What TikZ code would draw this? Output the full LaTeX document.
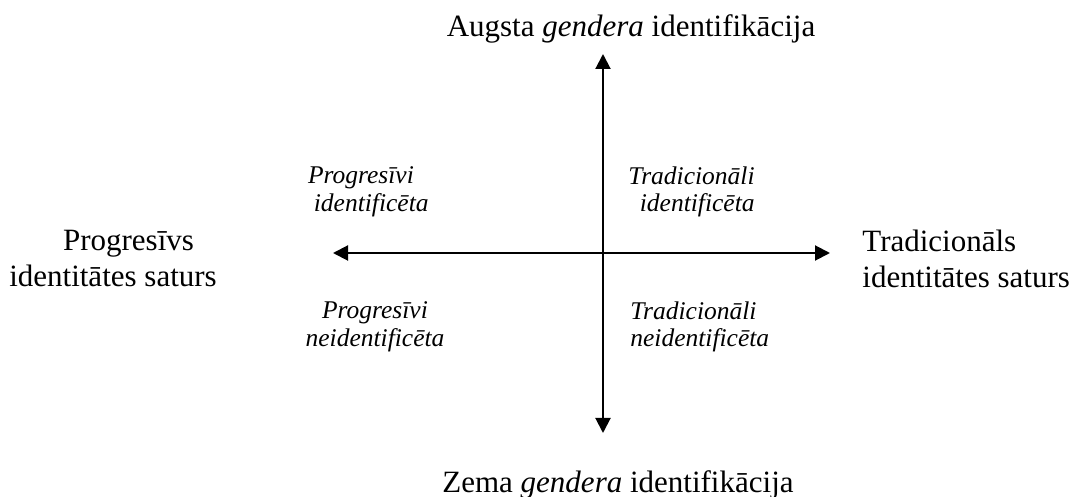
\documentclass[tikz,border=0pt]{standalone}
\usepackage{fontspec}
\setmainfont{Liberation Serif}
\usetikzlibrary{arrows.meta}

\begin{document}
\begin{tikzpicture}[x=0.5pt, y=-0.5pt,
    axis/.style={line width=1pt, {Triangle[length=7.5pt,width=7.5pt]}-{Triangle[length=7.5pt,width=7.5pt]}},
    mainlabel/.style={font=\fontsize{15.5}{18}\selectfont, inner sep=0pt},
    quadlabel/.style={font=\fontsize{12.75}{13.75}\selectfont\itshape, inner sep=0pt}]
    \useasboundingbox (0,0) rectangle (1073,497);

    % Axes
    \coordinate (left) at (333,253);
    \coordinate (right) at (830,253);
    \coordinate (top) at (603,54);
    \coordinate (bottom) at (603,433);
    \draw[axis] (left) -- (right);
    \draw[axis] (bottom) -- (top);

    % Axis labels
    \node[mainlabel, anchor=base] (high) at (631,37) {Augsta \textit{gendera} identifikācija};
    \node[mainlabel, anchor=base] (low) at (618,493) {Zema \textit{gendera} identifikācija};
    \node[mainlabel, align=center] (progr) at (113,259) {\hspace*{1em}Progresīvs\\identitātes saturs};
    \node[mainlabel, align=left, anchor=west] (trad) at (862,259) {Tradicionāls\\identitātes saturs};

    % Quadrant labels
    \node[quadlabel, align=center] (progrid) at (361,192) {Progresīvi\\\hspace*{0.8em}identificēta};
    \node[quadlabel, align=right, anchor=east] (tradid) at (755,192) {Tradicionāli\\identificēta};
    \node[quadlabel, align=center] (progrnid) at (375,327) {Progresīvi\\neidentificēta};
    \node[quadlabel, align=left, anchor=west] (tradnid) at (630,327) {Tradicionāli\\neidentificēta};
\end{tikzpicture}
\end{document}
